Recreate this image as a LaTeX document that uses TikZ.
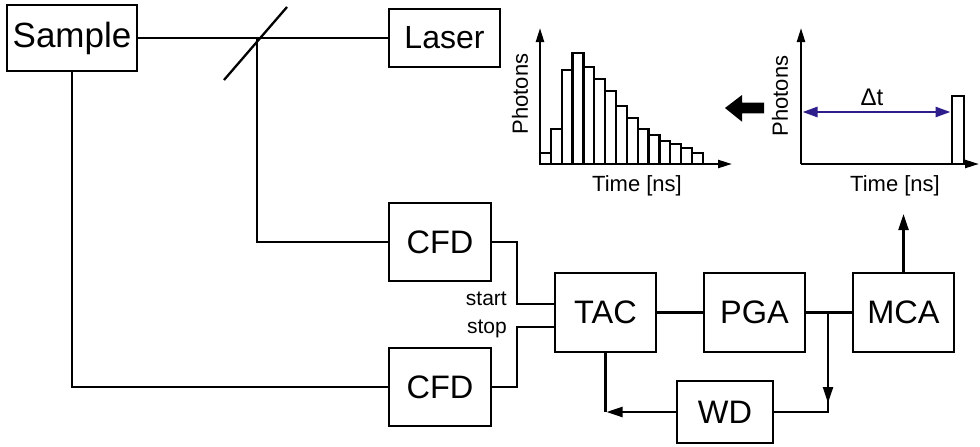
\documentclass[tikz,border=0pt]{standalone}
\usepackage{fontspec}
\setmainfont{Liberation Sans}
\usetikzlibrary{arrows.meta}
\definecolor{dtblue}{RGB}{46,30,140}
\begin{document}
\begin{tikzpicture}[x=1pt,y=-1pt,
  box/.style={draw, line width=2.3pt, inner sep=0pt, font=\fontsize{32.5}{36}\selectfont},
  lab/.style={inner sep=0pt, font=\fontsize{21}{24}\selectfont},
  axlab/.style={inner sep=0pt, font=\fontsize{22}{24}\selectfont},
  conn/.style={line width=2.3pt},
  tip/.style={-{Triangle[length=16pt,width=10pt]}},
  axtip/.style={-{Triangle[length=14pt,width=8pt]}},
  dtarrow/.style={dtblue, line width=2.6pt, {Triangle[length=15pt,width=10pt]}-{Triangle[length=15pt,width=10pt]}}
]
\useasboundingbox (0,0) rectangle (980,447);

% boxes
\node[box, minimum width=130pt, minimum height=66pt, font=\fontsize{35}{40}\selectfont] (sample) at (72,38) {Sample};
\node[box, minimum width=111pt, minimum height=58pt, font=\fontsize{32}{36}\selectfont] (laser) at (444.5,38) {Laser};
\node[box, minimum width=102pt, minimum height=78pt] (cfd1) at (440,242) {CFD};
\node[box, minimum width=102pt, minimum height=78pt] (cfd2) at (440,387) {CFD};
\node[box, minimum width=101pt, minimum height=79pt] (tac) at (605.5,312.5) {TAC};
\node[box, minimum width=101pt, minimum height=79pt] (pga) at (754.5,312.5) {PGA};
\node[box, minimum width=101pt, minimum height=79pt] (mca) at (903.5,312.5) {MCA};
\node[box, minimum width=96pt, minimum height=62pt] (wd) at (725,412) {WD};

% optics
\coordinate (mir) at (257,38);
\coordinate (m1) at (224,80);
\coordinate (m2) at (287,7);
\draw[conn] (sample.east) -- (laser.west);
\draw[conn] (m1) -- (m2);
\draw[conn] (mir) |- (cfd1.west);
\draw[conn] (sample.south) |- (cfd2.west);

% electronics
\draw[conn] (cfd1.east) -- ++(25,0) |- ([yshift=8.5pt]tac.west);
\draw[conn] (cfd2.east) -- ++(25,0) |- ([yshift=-14.5pt]tac.west);
\node[lab, anchor=base east] (start) at (507,305) {start};
\node[lab, anchor=base east] (stop) at (507,333) {stop};
\draw[conn] (tac.east) -- (pga.west);
\draw[conn] (pga.east) -- (mca.west);
\coordinate (j) at (828,312.5);
\coordinate (jd) at (828,403);
\draw[conn] (wd.east) -| (j);
\draw[conn,tip] (j) -- (jd);
\coordinate (tc) at (tac.south |- wd.west);
\draw[conn] (tac.south) -- (tc);
\draw[conn,tip] (wd.west) -- ([xshift=1pt]tc);
\coordinate (mcaout) at (903.5,214);
\draw[conn,tip] (mca.north) -- (mcaout);

% left histogram
\coordinate (o1) at (540,164);
\foreach \t [count=\i from 0] in {152.7,129.3,70,53.3,67.3,79.3,91,105.7,118.3,129.3,135,140.7,144,148.3,152.7}
  \draw[conn] ({540+\i*10.85},164) rectangle ({540+(\i+1)*10.85},\t);
\draw[conn,axtip] (o1) -- (540,28);
\draw[conn,axtip] (o1) -- (732,164);
\node[axlab, rotate=90] (ph1) at (520,94) {Photons};
\node[axlab] (t1) at (637,186) {Time [ns]};

% big arrow
\fill (725,108) -- (742,95) -- (742,102.7) -- (764,102.7) -- (764,113.3) -- (742,113.3) -- (742,121.7) -- cycle;

% right histogram
\coordinate (o2) at (801,164);
\draw[conn] (952,164) rectangle (964,96);
\draw[conn,axtip] (o2) -- (801,28);
\draw[conn,axtip] (o2) -- (979,164);
\draw[dtarrow] (802.5,112) -- (950.5,112);
\node[axlab, font=\fontsize{24}{26}\selectfont] (dt) at (872,97) {Δt};
\node[axlab, rotate=90] (ph2) at (780,96) {Photons};
\node[axlab] (t2) at (895,186) {Time [ns]};
\end{tikzpicture}
\end{document}
